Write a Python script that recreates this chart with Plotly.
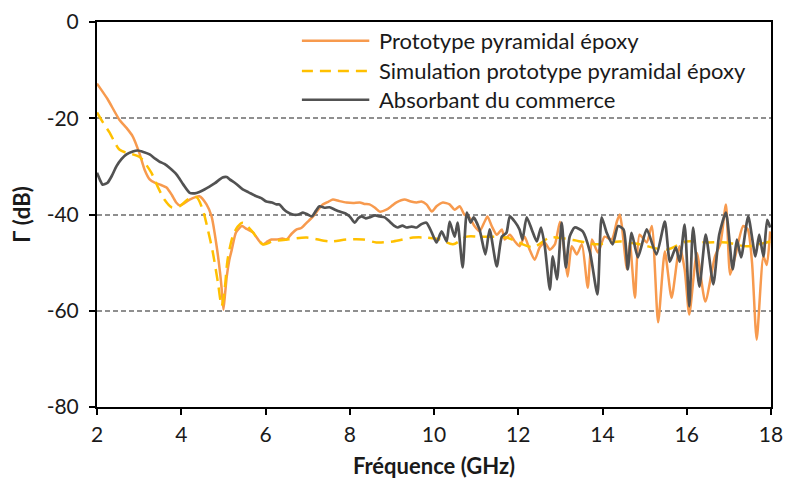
import plotly.graph_objects as go

# Mesure du prototype pyramidal en époxy
freq_proto = [2.0, 2.25, 2.53, 2.7, 2.85, 3.0, 3.13, 3.25, 3.37, 3.5, 3.65, 3.78, 3.88, 3.96, 4.05,
              4.2, 4.43, 4.6, 4.72, 4.84, 4.92, 4.96, 5.0, 5.04, 5.08, 5.14, 5.2, 5.3, 5.44, 5.55,
              5.7, 5.85, 5.94, 6.05, 6.14, 6.26, 6.4, 6.5, 6.62, 6.74, 6.85, 6.98, 7.13, 7.25, 7.36,
              7.5, 7.6, 7.75, 7.92, 8.08, 8.24, 8.35, 8.47, 8.6, 8.71, 8.87, 9.0, 9.11, 9.3, 9.45,
              9.59, 9.7, 9.82, 9.95, 10.06, 10.21, 10.37, 10.49, 10.61, 10.72, 10.84, 10.96, 11.08,
              11.2, 11.27, 11.37, 11.49, 11.61, 11.68, 11.8, 11.92, 12.03, 12.15, 12.27, 12.39,
              12.51, 12.63, 12.75, 12.87, 12.99, 13.06, 13.17, 13.27, 13.39, 13.51, 13.65, 13.75,
              13.89, 14.05, 14.22, 14.34, 14.41, 14.46, 14.58, 14.65, 14.77, 14.88, 15.05, 15.17,
              15.32, 15.48, 15.64, 15.83, 15.95, 16.06, 16.24, 16.44, 16.67, 16.8, 16.93, 17.03,
              17.15, 17.34, 17.45, 17.55, 17.66, 17.82, 17.9, 17.98]
gamma_proto = [-12.8, -16.0, -20.3, -22.0, -23.8, -27.1, -30.7, -32.7, -33.4, -33.8, -34.4, -36.0,
               -37.5, -38.1, -37.8, -36.9, -36.2, -37.9, -40.4, -46.6, -52.0, -55.5, -59.8, -56.5,
               -52.9, -49.5, -47.3, -43.7, -42.4, -43.0, -43.7, -45.5, -46.2, -45.6, -45.2, -45.2,
               -45.0, -45.2, -44.0, -43.1, -42.8, -41.7, -40.4, -39.0, -37.9, -37.3, -36.9, -37.2,
               -37.5, -37.6, -37.5, -37.8, -37.9, -38.6, -39.4, -39.0, -38.2, -37.5, -36.9, -37.3,
               -37.5, -37.3, -37.9, -39.4, -38.3, -37.5, -37.9, -39.0, -38.3, -40.0, -40.6, -42.4,
               -43.5, -41.5, -40.4, -42.4, -44.2, -43.1, -45.2, -44.2, -45.6, -46.6, -44.6, -47.3,
               -49.4, -46.8, -45.8, -47.3, -46.2, -41.5, -45.2, -52.9, -46.6, -48.3, -46.2, -55.2,
               -45.2, -47.9, -44.6, -45.2, -41.5, -40.0, -42.4, -51.4, -45.8, -57.3, -44.2, -45.8,
               -42.4, -62.4, -47.7, -57.3, -46.6, -51.4, -60.8, -48.0, -58.1, -48.7, -46.0, -37.9,
               -52.5, -48.7, -42.4, -43.1, -50.0, -66.0, -48.7, -50.5, -43.5]

# Simulation du prototype pyramidal en époxy
freq_simu = [2.0, 2.15, 2.3, 2.42, 2.53, 2.7, 2.85, 3.0, 3.08, 3.18, 3.29, 3.44, 3.6, 3.77, 3.96,
             4.15, 4.36, 4.51, 4.63, 4.75, 4.87, 4.96, 5.03, 5.1, 5.22, 5.34, 5.46, 5.58, 5.7,
             5.94, 6.17, 6.5, 6.98, 7.52, 7.92, 8.32, 8.63, 9.03, 9.5, 9.82, 10.14, 10.45, 10.77,
             11.08, 11.72, 12.35, 12.75, 13.3, 13.86, 14.41, 14.88, 15.52, 15.99, 16.47, 16.94,
             17.42, 17.98]
gamma_simu = [-18.8, -21.0, -23.0, -25.0, -26.5, -27.2, -27.5, -28.0, -28.6, -29.8, -31.3, -34.2,
              -36.9, -38.5, -38.3, -36.9, -36.4, -39.0, -43.1, -47.9, -54.1, -59.0, -55.6, -49.4,
              -44.6, -42.5, -41.7, -42.5, -43.7, -46.2, -45.6, -45.2, -44.8, -45.6, -45.2, -45.2,
              -45.8, -45.6, -44.8, -44.8, -45.2, -46.2, -44.6, -44.6, -44.8, -46.8, -44.8, -45.3,
              -46.2, -45.6, -46.2, -47.3, -45.6, -45.8, -45.8, -46.6, -45.6]

# Absorbant du commerce (référence)
freq_comm = [2.0, 2.08, 2.13, 2.25, 2.35, 2.46, 2.58, 2.7, 2.85, 2.97, 3.1, 3.25, 3.38, 3.48, 3.6,
             3.72, 3.89, 4.05, 4.2, 4.32, 4.43, 4.55, 4.67, 4.8, 4.98, 5.08, 5.15, 5.3, 5.46, 5.6,
             5.78, 5.9, 6.02, 6.15, 6.26, 6.33, 6.42, 6.5, 6.65, 6.78, 6.89, 7.0, 7.1, 7.2, 7.28,
             7.4, 7.52, 7.65, 7.76, 7.9, 8.0, 8.12, 8.2, 8.28, 8.38, 8.47, 8.6, 8.71, 8.83, 8.95,
             9.05, 9.14, 9.25, 9.35, 9.47, 9.59, 9.7, 9.82, 9.95, 10.06, 10.18, 10.3, 10.37, 10.49,
             10.56, 10.68, 10.78, 10.87, 10.94, 11.08, 11.22, 11.32, 11.49, 11.61, 11.72, 11.8,
             11.92, 12.03, 12.1, 12.2, 12.32, 12.44, 12.54, 12.63, 12.75, 12.82, 12.92, 13.03,
             13.13, 13.22, 13.34, 13.53, 13.7, 13.88, 13.98, 14.1, 14.24, 14.37, 14.5, 14.6,
             14.69, 14.84, 15.05, 15.28, 15.48, 15.6, 15.74, 15.83, 15.95, 16.06, 16.15, 16.3,
             16.45, 16.63, 16.77, 16.93, 17.09, 17.19, 17.29, 17.46, 17.63, 17.72, 17.82, 17.91,
             17.98]
gamma_comm = [-31.3, -33.0, -33.8, -33.4, -32.0, -30.0, -28.5, -27.5, -26.9, -26.7, -27.0, -27.5,
              -28.4, -29.0, -29.5, -30.3, -31.7, -33.8, -35.5, -35.6, -35.3, -34.8, -34.2, -33.5,
              -32.3, -32.2, -32.7, -33.6, -34.8, -35.4, -36.2, -36.6, -37.3, -37.5, -37.9, -37.9,
              -38.8, -39.4, -40.0, -40.0, -39.6, -40.0, -40.4, -39.2, -38.3, -38.6, -38.5, -39.0,
              -39.4, -39.8, -40.4, -41.7, -40.8, -40.4, -40.8, -40.6, -40.2, -40.4, -40.6, -41.5,
              -42.3, -42.7, -42.3, -42.7, -42.5, -42.7, -42.0, -41.7, -43.8, -45.8, -43.5, -45.6,
              -41.5, -44.6, -41.7, -51.0, -39.6, -41.7, -40.6, -43.1, -48.3, -43.1, -50.8, -44.6,
              -43.8, -40.4, -41.5, -43.1, -45.2, -40.6, -43.1, -45.6, -42.7, -46.6, -55.6, -48.7,
              -53.5, -41.7, -51.0, -44.6, -42.7, -43.5, -47.7, -56.6, -40.6, -43.8, -46.2, -42.4,
              -43.1, -51.4, -43.8, -48.9, -43.1, -48.3, -41.5, -49.8, -46.8, -49.8, -42.1, -59.1,
              -42.7, -55.0, -44.2, -54.5, -44.2, -39.6, -51.4, -45.2, -48.9, -40.4, -48.7, -44.2,
              -48.7, -41.1, -42.7]

x_ticks = [2, 4, 6, 8, 10, 12, 14, 16, 18]
y_ticks = [0, -20, -40, -60, -80]
y_tick_labels = ["0", "-20", "-40", "-60", "-80"]

series_names = ["Prototype pyramidal époxy",
                "Simulation prototype pyramidal époxy",
                "Absorbant du commerce"]
COL_PROTO = "#F79A4E"
COL_SIMU = "#FFC000"
COL_COMM = "#525252"
FONT = "Lato, 'Open Sans', sans-serif"
TXT = "#1a1a1a"

fig = go.Figure()
fig.add_trace(go.Scatter(x=freq_proto, y=gamma_proto, mode="lines", name=series_names[0],
                         line=dict(color=COL_PROTO, width=2.5, shape="spline", smoothing=0.6)))
fig.add_trace(go.Scatter(x=freq_simu, y=gamma_simu, mode="lines", name=series_names[1],
                         line=dict(color=COL_SIMU, width=2.5, dash="12px,7px",
                                   shape="spline", smoothing=0.8)))
fig.add_trace(go.Scatter(x=freq_comm, y=gamma_comm, mode="lines", name=series_names[2],
                         line=dict(color=COL_COMM, width=2.7, shape="spline", smoothing=0.6)))

# Légende dessinée à la main : segments longs + libellés
legend_rows = [0.951, 0.873, 0.798]
legend_styles = [dict(color=COL_PROTO, width=2.5),
                 dict(color=COL_SIMU, width=2.5, dash="11px,7px"),
                 dict(color=COL_COMM, width=2.5)]
for yy, style, label in zip(legend_rows, legend_styles, series_names):
    fig.add_shape(type="line", xref="paper", yref="paper", x0=0.304, x1=0.404, y0=yy, y1=yy,
                  line=style)
    fig.add_annotation(xref="paper", yref="paper", x=0.415, y=yy, text=label, showarrow=False,
                       xanchor="left", yanchor="middle",
                       font=dict(family=FONT, size=22, color=TXT))

fig.update_layout(
    width=787, height=480,
    margin=dict(l=97, r=16, t=22, b=73, autoexpand=False),
    paper_bgcolor="white", plot_bgcolor="white",
    showlegend=False,
    font=dict(family=FONT, size=21, color=TXT),
)
fig.update_xaxes(
    range=[2, 18], tickvals=x_ticks, ticks="outside", ticklen=6, tickwidth=1.5, tickcolor="black",
    showline=True, linecolor="black", linewidth=2, mirror=True, showgrid=False, zeroline=False,
    tickfont=dict(size=21), ticklabelstandoff=2, automargin=False,
    title=dict(text="<b>Fréquence (GHz)</b>", font=dict(size=22), standoff=13),
)
fig.update_yaxes(
    range=[-80, 0], tickvals=y_ticks, ticktext=y_tick_labels, ticks="outside", ticklen=6,
    tickwidth=1.5, tickcolor="black",
    showline=True, linecolor="black", linewidth=2, mirror=True, zeroline=False,
    showgrid=True, gridcolor="#8f8f8f", gridwidth=1.5, griddash="5px,3px",
    tickfont=dict(size=21), ticklabelstandoff=6, automargin=False,
    title=dict(text="<b>Γ (dB)</b>", font=dict(size=22), standoff=10),
)

fig.write_html("out.html")
